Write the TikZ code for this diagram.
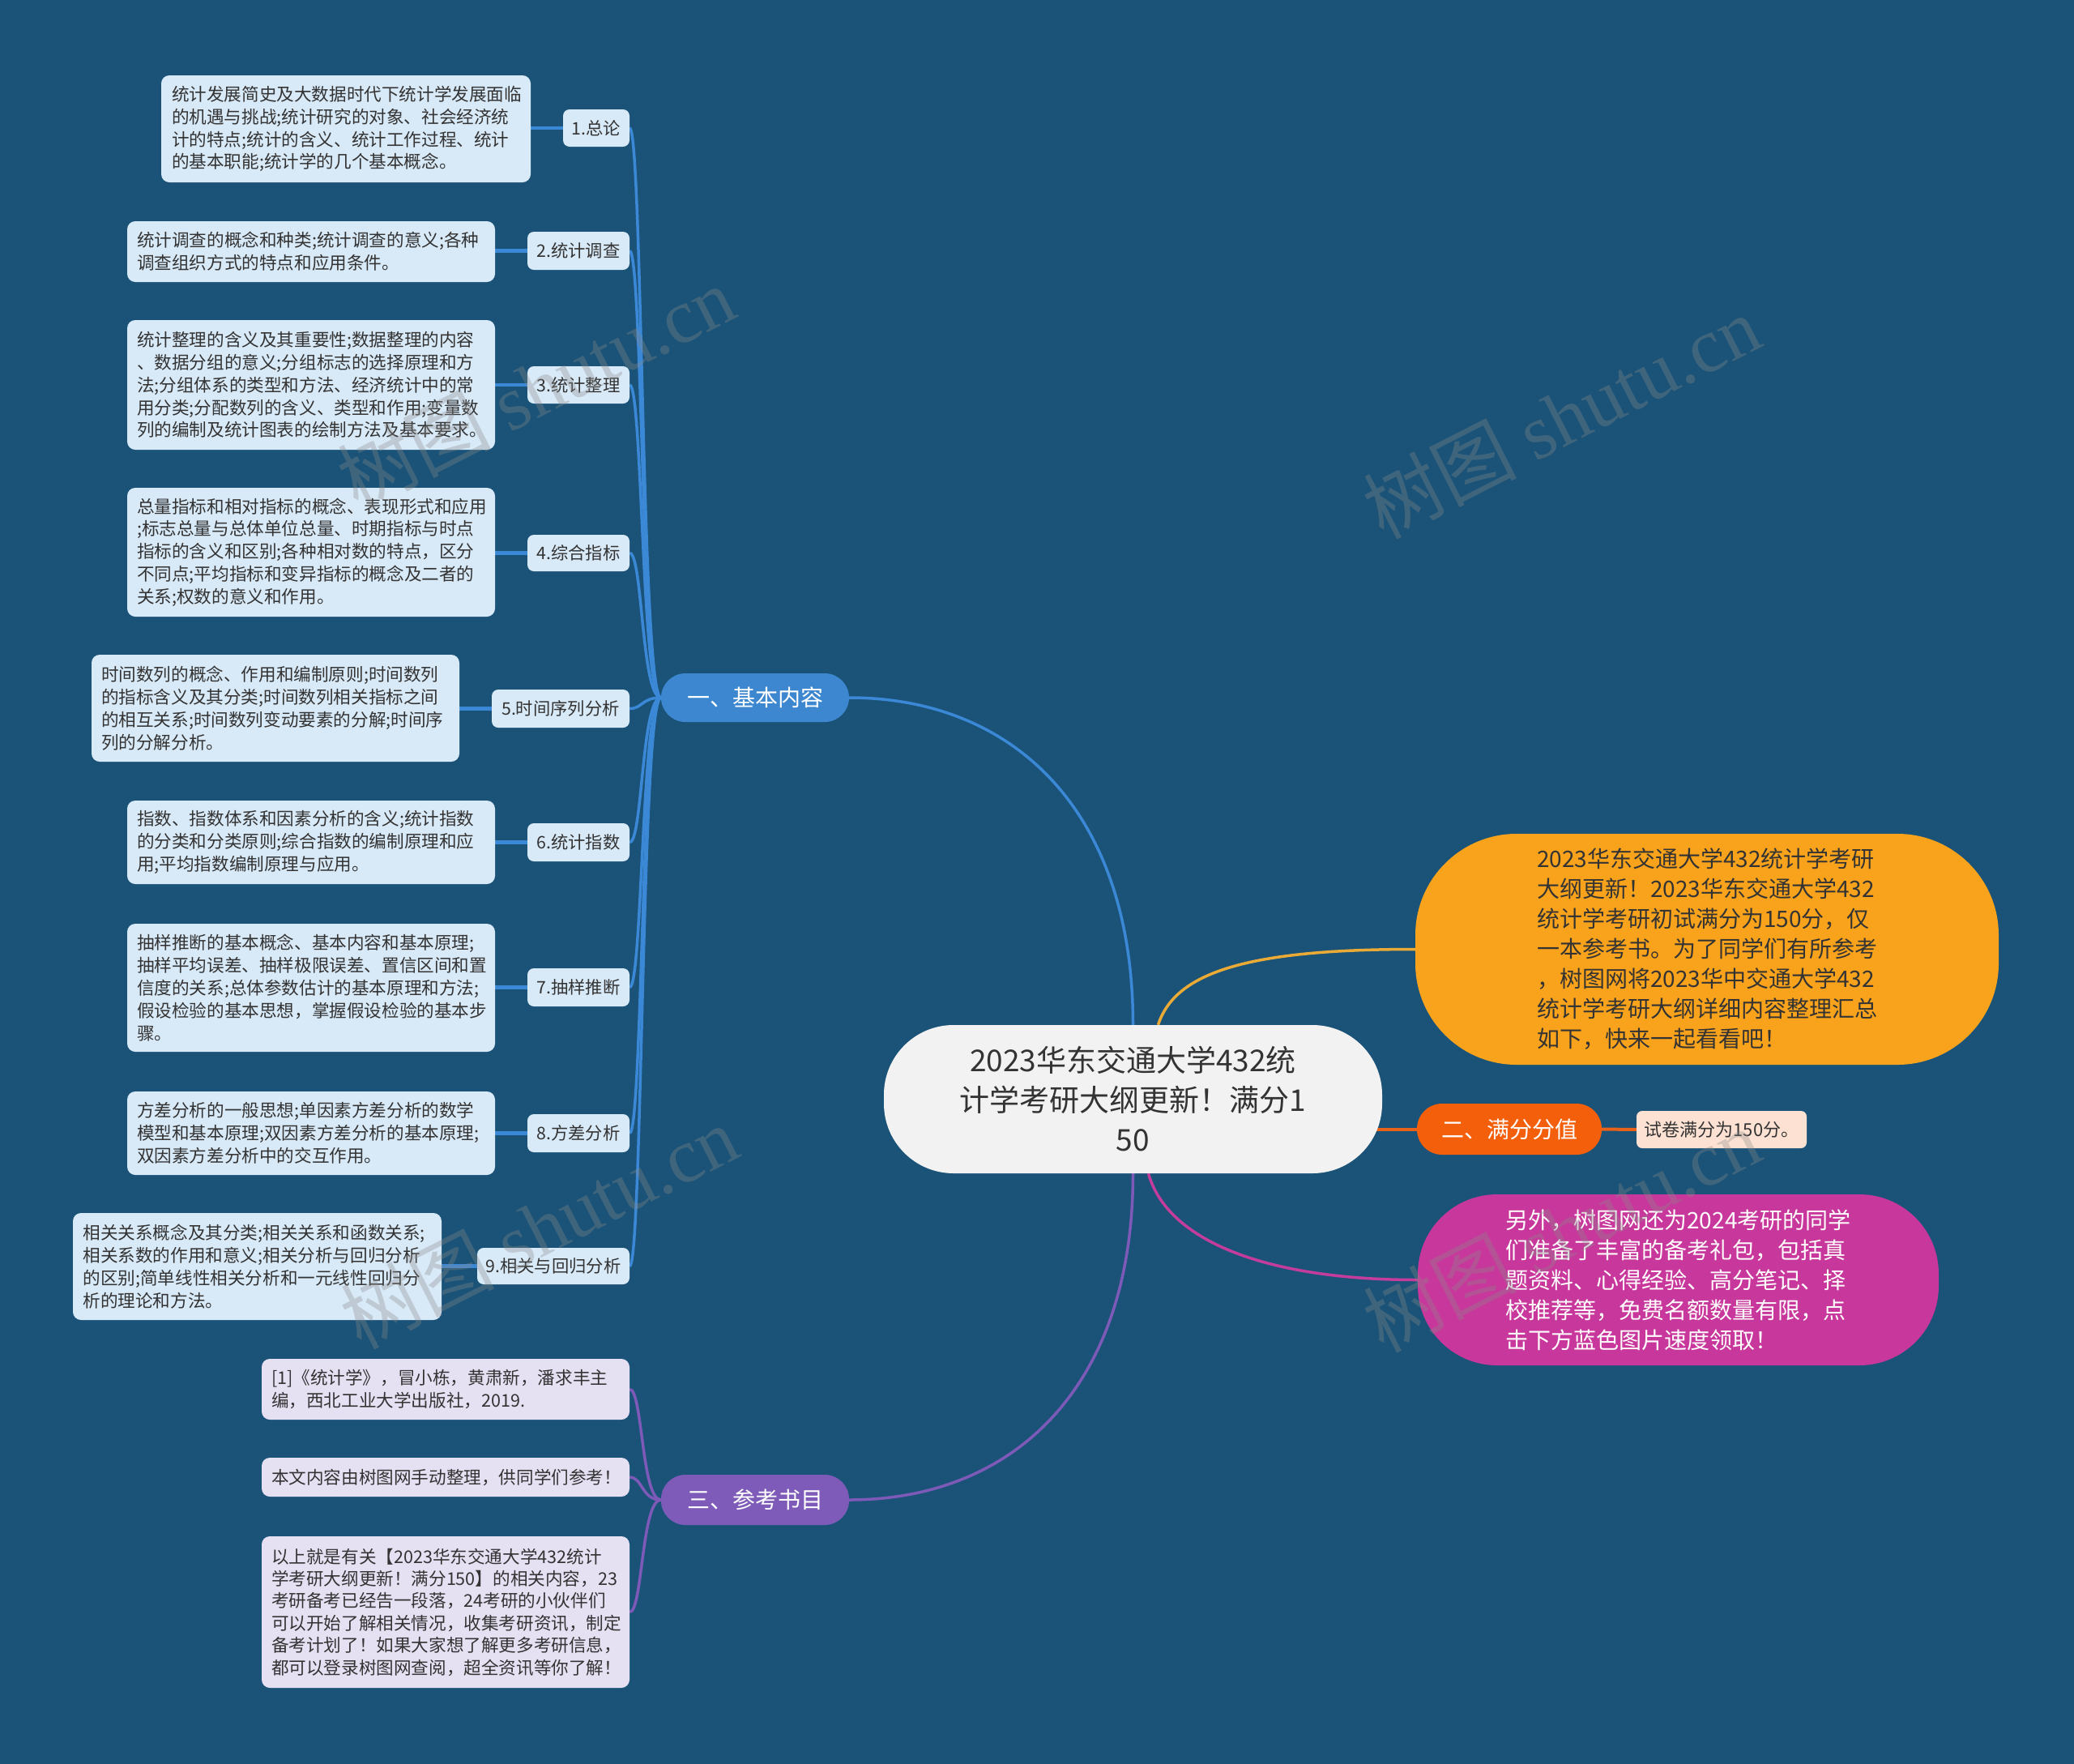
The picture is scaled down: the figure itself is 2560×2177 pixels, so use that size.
\documentclass[tikz,border=0pt]{standalone}
\usepackage{fontspec}
\setmainfont{Noto Sans CJK SC}
\newfontfamily\wmlatin{Liberation Serif}
\usetikzlibrary{backgrounds}
\definecolor{bgc}{HTML}{1B5378}
\definecolor{txt}{HTML}{333333}
\definecolor{rootfill}{HTML}{F2F2F2}
\definecolor{bluepill}{HTML}{3C87D0}
\definecolor{bluel}{HTML}{3B88D6}
\definecolor{descfill}{HTML}{D8E9F7}
\definecolor{purplepill}{HTML}{7E5BB8}
\definecolor{purplel}{HTML}{7D5AB8}
\definecolor{reffill}{HTML}{E6E0F3}
\definecolor{orpill}{HTML}{F45F0B}
\definecolor{orl}{HTML}{E8621A}
\definecolor{scfill}{HTML}{FDE2D3}
\definecolor{yfill}{HTML}{F9A31C}
\definecolor{yl}{HTML}{EAAA36}
\definecolor{mfill}{HTML}{C8379B}
\definecolor{ml}{HTML}{C43D9C}
\definecolor{wmc}{HTML}{8A8A8A}
\newcommand\placebox[7]{\node[#6, minimum width={#4-#2}, minimum height={#5-#3}] (#1) at ({(#2+#4)/2},{(#3+#5)/2}) {#7};}
\tikzset{
  desc/.style={fill=descfill, rounded corners=10pt, text=txt, font=\fontsize{21.6}{27.8}\selectfont, align=left, text width=430pt, inner xsep=12pt, inner ysep=0pt},
  refbox/.style={desc, fill=reffill, font=\fontsize{21.6}{27.4}\selectfont},
  lab/.style={fill=descfill, rounded corners=8pt, text=txt, font=\fontsize{21.3}{26}\selectfont, inner sep=0pt},
  rootbox/.style={fill=rootfill, rounded corners=86pt, text=txt, font=\fontsize{37}{49}\selectfont, align=center, inner sep=0pt},
  pill/.style={rounded corners=30pt, text=white, font=\fontsize{28}{34}\selectfont, inner sep=0pt},
  bigbox/.style={text=txt, font=\fontsize{28}{37}\selectfont, align=left, inner sep=0pt},
  scbox/.style={fill=scfill, rounded corners=7pt, text=txt, font=\fontsize{22}{26}\selectfont, inner sep=0pt},
  bline/.style={draw=bluel, line width=3.5pt},
  lline/.style={draw=bluel, line width=4.5pt},
  pline/.style={draw=purplel, line width=3.5pt},
  wm/.style={text=wmc, text opacity=0.33, font=\fontsize{95}{100}\selectfont, inner sep=0pt},
}
\begin{document}
\begin{tikzpicture}[x=1pt,y=-1pt]
\useasboundingbox (0,0) rectangle (2560,2177);
% root and main branches
\placebox{root}{1091}{1265}{1706}{1448}{rootbox}{2023华东交通大学432统\\计学考研大纲更新！满分1\\50}
\placebox{p1}{816}{831}{1048}{891}{pill, fill=bluepill}{一、基本内容}
\placebox{p3}{816}{1820}{1048}{1882}{pill, fill=purplepill}{三、参考书目}
\placebox{p2}{1749}{1362}{1977}{1425}{pill, fill=orpill, rounded corners=31pt}{二、满分分值}
\placebox{sc}{2020}{1371}{2230}{1417}{scbox}{试卷满分为150分。}
\placebox{yb}{1747}{1029}{2467}{1314}{bigbox, fill=yfill, rounded corners=125pt}{2023华东交通大学432统计学考研\\大纲更新！2023华东交通大学432\\统计学考研初试满分为150分，仅\\一本参考书。为了同学们有所参考\\，树图网将2023华中交通大学432\\统计学考研大纲详细内容整理汇总\\如下，快来一起看看吧！}
\placebox{mb}{1750}{1474}{2393}{1685}{bigbox, fill=mfill, text=white, rounded corners=98pt}{另外，树图网还为2024考研的同学\\们准备了丰富的备考礼包，包括真\\题资料、心得经验、高分笔记、择\\校推荐等，免费名额数量有限，点\\击下方蓝色图片速度领取！}
% labels
\placebox{L1}{695}{135}{777}{181}{lab}{1.总论}
\placebox{L2}{651}{286}{777}{333}{lab}{2.统计调查}
\placebox{L3}{651}{452}{777}{498}{lab}{3.统计整理}
\placebox{L4}{651}{660}{777}{705}{lab}{4.综合指标}
\placebox{L5}{607}{851}{777}{898}{lab}{5.时间序列分析}
\placebox{L6}{651}{1016}{777}{1063}{lab}{6.统计指数}
\placebox{L7}{651}{1195}{777}{1242}{lab}{7.抽样推断}
\placebox{L8}{651}{1375}{777}{1422}{lab}{8.方差分析}
\placebox{L9}{589}{1540}{777}{1585}{lab}{9.相关与回归分析}
% descriptions
\placebox{D1}{199}{93}{655}{225}{desc}{统计发展简史及大数据时代下统计学发展面临\\的机遇与挑战;统计研究的对象、社会经济统\\计的特点;统计的含义、统计工作过程、统计\\的基本职能;统计学的几个基本概念。}
\placebox{D2}{157}{273}{611}{348}{desc}{统计调查的概念和种类;统计调查的意义;各种\\调查组织方式的特点和应用条件。}
\placebox{D3}{157}{395}{611}{555}{desc}{统计整理的含义及其重要性;数据整理的内容\\、数据分组的意义;分组标志的选择原理和方\\法;分组体系的类型和方法、经济统计中的常\\用分类;分配数列的含义、类型和作用;变量数\\列的编制及统计图表的绘制方法及基本要求。}
\placebox{D4}{157}{602}{611}{761}{desc}{总量指标和相对指标的概念、表现形式和应用\\;标志总量与总体单位总量、时期指标与时点\\指标的含义和区别;各种相对数的特点，区分\\不同点;平均指标和变异指标的概念及二者的\\关系;权数的意义和作用。}
\placebox{D5}{113}{808}{567}{940}{desc}{时间数列的概念、作用和编制原则;时间数列\\的指标含义及其分类;时间数列相关指标之间\\的相互关系;时间数列变动要素的分解;时间序\\列的分解分析。}
\placebox{D6}{157}{988}{611}{1091}{desc}{指数、指数体系和因素分析的含义;统计指数\\的分类和分类原则;综合指数的编制原理和应\\用;平均指数编制原理与应用。}
\placebox{D7}{157}{1140}{611}{1298}{desc}{抽样推断的基本概念、基本内容和基本原理;\\抽样平均误差、抽样极限误差、置信区间和置\\信度的关系;总体参数估计的基本原理和方法;\\假设检验的基本思想，掌握假设检验的基本步\\骤。}
\placebox{D8}{157}{1347}{611}{1450}{desc}{方差分析的一般思想;单因素方差分析的数学\\模型和基本原理;双因素方差分析的基本原理;\\双因素方差分析中的交互作用。}
\placebox{D9}{90}{1497}{545}{1629}{desc}{相关关系概念及其分类;相关关系和函数关系;\\相关系数的作用和意义;相关分析与回归分析\\的区别;简单线性相关分析和一元线性回归分\\析的理论和方法。}
% references
\placebox{R1}{323}{1677}{777}{1752}{refbox}{[1]《统计学》，冒小栋，黄肃新，潘求丰主\\编，西北工业大学出版社，2019.}
\placebox{R2}{323}{1799}{777}{1847}{refbox}{本文内容由树图网手动整理，供同学们参考！}
\placebox{R3}{323}{1896}{777}{2083}{refbox}{以上就是有关【2023华东交通大学432统计\\学考研大纲更新！满分150】的相关内容，23\\考研备考已经告一段落，24考研的小伙伴们\\可以开始了解相关情况，收集考研资讯，制定\\备考计划了！如果大家想了解更多考研信息，\\都可以登录树图网查阅，超全资讯等你了解！}
% connectors
\begin{pgfonlayer}{background}
\fill[bgc] (0,0) rectangle (2560,2177);
\draw[bluel, line width=3.5pt] (p1.east) .. controls +(202,0) and +(0,-265) .. (root.north);
\draw[purplel, line width=3.5pt] (p3.east) .. controls +(202,0) and +(0,265) .. (root.south);
\draw[yl, line width=3.5pt] ([xshift=31pt]root.north) .. controls +(21,-65) and +(-207,0) .. (yb.west);
\draw[ml, line width=3.5pt] ([xshift=19pt]root.south) .. controls +(23,82) and +(-190,0) .. (mb.west);
\draw[orl, line width=4pt] (p2.west) -- (p2.west -| root.center);
\draw[orl, line width=4pt] (p2.east) -- (sc.west);
\foreach \i in {1,...,9}{
  \draw[bline] (p1.west) .. controls +(-24,0) and +(16,0) .. (L\i.east);
  \draw[lline] (L\i.west) -- (L\i.west -| D\i.east);
}
\foreach \i in {1,2,3}{
  \draw[pline] (p3.west) .. controls +(-24,0) and +(16,0) .. (R\i.east);
}
\end{pgfonlayer}
% watermarks
\node[wm, rotate=27] (wm1) at (661,478) {树图 {\wmlatin shutu.cn}};
\node[wm, rotate=27] (wm2) at (1927,514) {树图 {\wmlatin shutu.cn}};
\node[wm, rotate=27] (wm3) at (665,1514) {树图 {\wmlatin shutu.cn}};
\node[wm, rotate=27] (wm4) at (1927,1518) {树图 {\wmlatin shutu.cn}};
\end{tikzpicture}
\end{document}
